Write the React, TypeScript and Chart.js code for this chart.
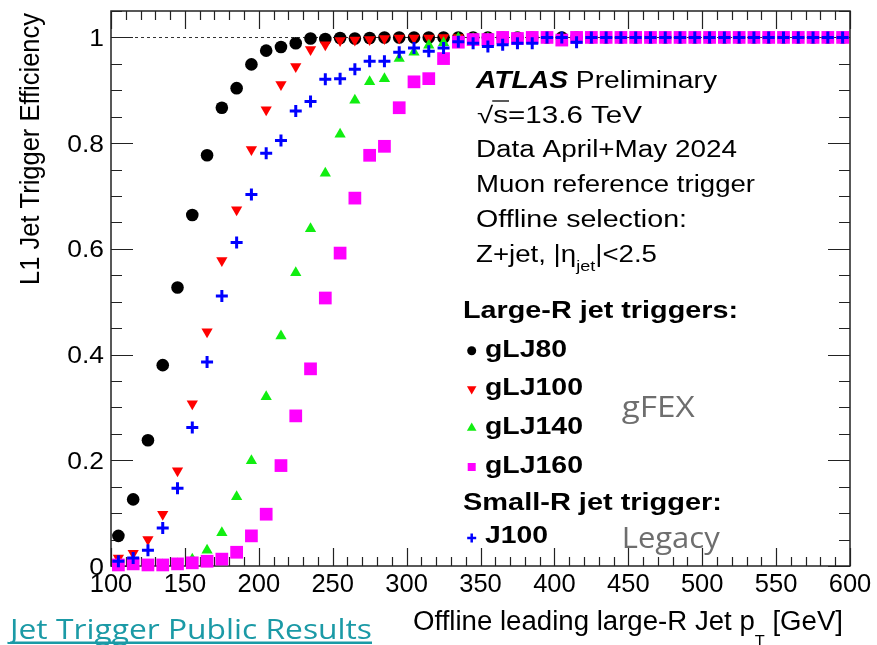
import React, { useEffect, useRef } from 'react';
import { Chart, registerables } from 'chart.js';

Chart.register(...registerables);

// Bin centres of the offline leading large-R jet pT [GeV]
const ptBins = [
  105, 115, 125, 135, 145, 155, 165, 175, 185, 195,
  205, 215, 225, 235, 245, 255, 265, 275, 285, 295,
  305, 315, 325, 335, 345, 355, 365, 375, 385, 395,
  405, 415, 425, 435, 445, 455, 465, 475, 485, 495,
  505, 515, 525, 535, 545, 555, 565, 575, 585, 595,
];

const gLJ80 = [
  0.057, 0.126, 0.238, 0.380, 0.527, 0.664, 0.777, 0.867, 0.904, 0.949,
  0.975, 0.982, 0.989, 0.998, 0.997, 0.999, 0.998, 0.999, 1.0, 1.0,
  1.0, 1.0, 1.0, 1.0, 1.0, 1.0, 1.0, 1.0, 1.0, 1.0,
  1.0, 1.0, 1.0, 1.0, 1.0, 1.0, 1.0, 1.0, 1.0, 1.0,
  1.0, 1.0, 1.0, 1.0, 1.0, 1.0, 1.0, 1.0, 1.0, 1.0,
];

const gLJ100 = [
  0.015, 0.024, 0.050, 0.098, 0.180, 0.307, 0.443, 0.578, 0.674, 0.788,
  0.863, 0.911, 0.945, 0.977, 0.986, 0.994, 0.995, 0.996, 0.998, 0.999,
  0.999, 0.999, 1.0, 1.0, 1.0, 1.0, 1.0, 1.0, 1.0, 1.0,
  1.0, 1.0, 1.0, 1.0, 1.0, 1.0, 1.0, 1.0, 1.0, 1.0,
  1.0, 1.0, 1.0, 1.0, 1.0, 1.0, 1.0, 1.0, 1.0, 1.0,
];

const gLJ140 = [
  0.001, 0.001, 0.001, 0.002, 0.004, 0.013, 0.030, 0.063, 0.131, 0.199,
  0.320, 0.435, 0.555, 0.638, 0.743, 0.817, 0.881, 0.916, 0.922, 0.960,
  0.972, 0.985, 0.990, 0.999, 0.998, 0.999, 1.0, 1.0, 1.0, 1.0,
  1.0, 1.0, 1.0, 1.0, 1.0, 1.0, 1.0, 1.0, 1.0, 1.0,
  1.0, 1.0, 1.0, 1.0, 1.0, 1.0, 1.0, 1.0, 1.0, 1.0,
];

const gLJ160 = [
  0.002, 0.004, 0.002, 0.002, 0.004, 0.006, 0.009, 0.013, 0.026, 0.057,
  0.098, 0.190, 0.284, 0.373, 0.507, 0.592, 0.696, 0.777, 0.794, 0.867,
  0.916, 0.922, 0.960, 0.991, 0.996, 0.996, 1.0, 0.998, 1.0, 1.0,
  0.995, 1.0, 1.0, 1.0, 1.0, 1.0, 1.0, 1.0, 1.0, 1.0,
  1.0, 1.0, 1.0, 1.0, 1.0, 1.0, 1.0, 1.0, 1.0, 1.0,
];

const J100 = [
  0.009, 0.015, 0.030, 0.072, 0.147, 0.262, 0.386, 0.511, 0.612, 0.703,
  0.781, 0.805, 0.861, 0.879, 0.921, 0.922, 0.940, 0.955, 0.955, 0.972,
  0.980, 0.974, 0.980, 0.992, 0.989, 0.983, 0.986, 0.989, 0.989, 1.0,
  1.0, 0.991, 1.0, 1.0, 1.0, 1.0, 1.0, 1.0, 1.0, 1.0,
  1.0, 1.0, 1.0, 1.0, 1.0, 1.0, 1.0, 1.0, 1.0, 1.0,
];

const xTickValues = [100, 150, 200, 250, 300, 350, 400, 450, 500, 550, 600];
const xTickLabels = ['100', '150', '200', '250', '300', '350', '400', '450', '500', '550', '600'];
const yTickValues = [0, 0.2, 0.4, 0.6, 0.8, 1];
const yTickLabels = ['0', '0.2', '0.4', '0.6', '0.8', '1'];
const xMinorStep = 10;
const yMinorStep = 0.05;

const SANS = '"Liberation Sans", Arial, Helvetica, sans-serif';
const WEB = '"Open Sans", "Noto Sans", sans-serif';

type Seg = { t: string; size: number; weight?: string; style?: string; dy?: number; family?: string };

function fontOf(s: Seg) {
  return `${s.style || 'normal'} ${s.weight || 'normal'} ${s.size}px ${s.family || SANS}`;
}

function drawSegs(ctx: CanvasRenderingContext2D, segs: Seg[], x: number, y: number, targetW: number | null, color: string, align: 'left' | 'right' = 'left') {
  let nat = 0;
  const widths: number[] = [];
  for (const s of segs) {
    ctx.font = fontOf(s);
    const w = ctx.measureText(s.t).width;
    widths.push(w);
    nat += w;
  }
  const sx = targetW ? targetW / nat : 1;
  const startX = align === 'right' ? x - nat * sx : x;
  ctx.save();
  ctx.fillStyle = color;
  ctx.textBaseline = 'alphabetic';
  ctx.textAlign = 'left';
  ctx.translate(startX, y);
  ctx.scale(sx, 1);
  let cx = 0;
  const pos: number[] = [];
  segs.forEach((s, i) => {
    ctx.font = fontOf(s);
    ctx.fillText(s.t, cx, s.dy || 0);
    pos.push(startX + cx * sx);
    cx += widths[i];
  });
  ctx.restore();
  pos.push(startX + nat * sx);
  return { sx, pos };
}

function drawMarker(ctx: CanvasRenderingContext2D, kind: string, x: number, y: number, r: number, color: string) {
  ctx.save();
  ctx.fillStyle = color;
  ctx.strokeStyle = color;
  ctx.beginPath();
  if (kind === 'circle') {
    ctx.arc(x, y, r, 0, Math.PI * 2);
    ctx.fill();
  } else if (kind === 'down') {
    ctx.moveTo(x - r * 0.87, y - r * 0.5);
    ctx.lineTo(x + r * 0.87, y - r * 0.5);
    ctx.lineTo(x, y + r);
    ctx.closePath();
    ctx.fill();
  } else if (kind === 'up') {
    ctx.moveTo(x - r * 0.87, y + r * 0.5);
    ctx.lineTo(x + r * 0.87, y + r * 0.5);
    ctx.lineTo(x, y - r);
    ctx.closePath();
    ctx.fill();
  } else if (kind === 'square') {
    ctx.fillRect(x - r, y - r, 2 * r, 2 * r);
  } else if (kind === 'cross') {
    ctx.lineWidth = 2.5;
    ctx.moveTo(x - r, y);
    ctx.lineTo(x + r, y);
    ctx.moveTo(x, y - r);
    ctx.lineTo(x, y + r);
    ctx.stroke();
  }
  ctx.restore();
}

const framePlugin = {
  id: 'atlasFrame',
  beforeDatasetsDraw(chart: any) {
    const ctx: CanvasRenderingContext2D = chart.ctx;
    const { left, right, top, bottom } = chart.chartArea;
    const xs = chart.scales.x;
    const ys = chart.scales.y;
    ctx.save();
    // dashed line at efficiency 1
    ctx.strokeStyle = '#333';
    ctx.lineWidth = 1;
    ctx.setLineDash([3, 3]);
    ctx.beginPath();
    const y1 = Math.round(ys.getPixelForValue(1)) + 0.5;
    ctx.moveTo(left, y1);
    ctx.lineTo(right, y1);
    ctx.stroke();
    ctx.setLineDash([]);

    // frame
    ctx.strokeStyle = '#222';
    ctx.lineWidth = 1.5;
    ctx.strokeRect(left, top, right - left, bottom - top);

    // x ticks
    ctx.lineWidth = 1.2;
    ctx.beginPath();
    for (let v = xs.min; v <= xs.max + 1e-9; v += xMinorStep) {
      const px = Math.round(xs.getPixelForValue(v)) + 0.5;
      const major = xTickValues.some((m) => Math.abs(m - v) < 1e-6);
      const len = major ? 18 : 9;
      ctx.moveTo(px, bottom);
      ctx.lineTo(px, bottom - len);
      ctx.moveTo(px, top);
      ctx.lineTo(px, top + len);
    }
    // y ticks
    for (let v = ys.min; v <= ys.max + 1e-9; v += yMinorStep) {
      const py = Math.round(ys.getPixelForValue(v)) + 0.5;
      const major = yTickValues.some((m) => Math.abs(m - v) < 1e-6);
      const len = major ? 22 : 11;
      ctx.moveTo(left, py);
      ctx.lineTo(left + len, py);
      ctx.moveTo(right, py);
      ctx.lineTo(right - len, py);
    }
    ctx.stroke();

    // tick labels
    xTickValues.forEach((v, i) => {
      const px = xs.getPixelForValue(v);
      const seg = [{ t: xTickLabels[i], size: 25.5 }];
      ctx.font = fontOf(seg[0]);
      const w = ctx.measureText(xTickLabels[i]).width;
      drawSegs(ctx, seg, px - w / 2, bottom + 25.5, null, '#000');
    });
    yTickValues.forEach((v, i) => {
      const py = ys.getPixelForValue(v);
      const s = { t: yTickLabels[i], size: 24 };
      ctx.font = fontOf(s);
      const w = ctx.measureText(s.t).width;
      drawSegs(ctx, [s], left - 7, py + 8.6, w * 1.1, '#000', 'right');
    });
    ctx.restore();
  },
  afterDatasetsDraw(chart: any) {
    const ctx: CanvasRenderingContext2D = chart.ctx;
    ctx.save();

    // y axis title (rotated, aligned to top)
    ctx.save();
    ctx.translate(39, 13);
    ctx.rotate(-Math.PI / 2);
    drawSegs(ctx, [{ t: 'L1 Jet Trigger Efficiency', size: 27 }], 0, 0, 272, '#000', 'right');
    ctx.restore();

    // x axis title
    drawSegs(
      ctx,
      [
        { t: 'Offline leading large-R Jet p', size: 27 },
        { t: 'T', size: 16, dy: 17 },
        { t: ' [GeV]', size: 27 },
      ],
      843, 630, 430, '#000', 'right'
    );

    // ATLAS label block
    drawSegs(ctx, [
      { t: 'ATLAS', size: 23, weight: 'bold', style: 'italic' },
      { t: ' Preliminary', size: 23 },
    ], 476, 88, 241, '#000');
    const r2 = drawSegs(ctx, [
      { t: '\u221A', size: 23 },
      { t: 's', size: 23 },
      { t: '=13.6 TeV', size: 23 },
    ], 477, 122.5, 165, '#000');
    ctx.save();
    ctx.strokeStyle = '#000';
    ctx.lineWidth = 1.3;
    ctx.beginPath();
    ctx.moveTo(r2.pos[1] - 1, 101);
    ctx.lineTo(r2.pos[2] + 1, 101);
    ctx.stroke();
    ctx.restore();
    drawSegs(ctx, [{ t: 'Data April+May 2024', size: 23 }], 476, 157.3, 261, '#000');
    drawSegs(ctx, [{ t: 'Muon reference trigger', size: 23 }], 476, 192, 279, '#000');
    drawSegs(ctx, [{ t: 'Offline selection:', size: 23 }], 476, 227, 211, '#000');
    drawSegs(ctx, [
      { t: 'Z+jet, |\u03B7', size: 23 },
      { t: 'jet', size: 15, dy: 9 },
      { t: '|<2.5', size: 23 },
    ], 476, 261.8, 181, '#000');

    // legend
    drawSegs(ctx, [{ t: 'Large-R jet triggers:', size: 24.5, weight: 'bold' }], 463, 318, 275, '#000');
    const entries = [
      { name: 'gLJ80', kind: 'circle', color: '#000000', y: 356.7, w: 82, r: 4.5 },
      { name: 'gLJ100', kind: 'down', color: '#ff0000', y: 395, w: 98, r: 5.5 },
      { name: 'gLJ140', kind: 'up', color: '#11ee11', y: 434, w: 98, r: 5.5 },
      { name: 'gLJ160', kind: 'square', color: '#ff00ff', y: 473, w: 98, r: 4 },
    ];
    entries.forEach((e) => {
      drawMarker(ctx, e.kind, 471.7, e.y - 6, e.r, e.color);
      drawSegs(ctx, [{ t: e.name, size: 24.5, weight: 'bold' }], 485, e.y, e.w, '#000');
    });
    drawSegs(ctx, [{ t: 'Small-R jet trigger:', size: 24.5, weight: 'bold' }], 463, 510, 259, '#000');
    drawMarker(ctx, 'cross', 471.7, 538, 4.5, '#0000ff');
    drawSegs(ctx, [{ t: 'J100', size: 24.5, weight: 'bold' }], 485, 543.3, 63, '#000');

    // gFEX / Legacy annotations
    drawSegs(ctx, [{ t: 'gFEX', size: 29, family: WEB }], 621.7, 416.7, 73, '#6e6e6e');
    drawSegs(ctx, [{ t: 'Legacy', size: 29, family: WEB }], 621.7, 547.5, 98, '#6e6e6e');

    // link-like footer
    drawSegs(ctx, [{ t: 'Jet Trigger Public Results', size: 28, family: WEB }], 10, 638.5, 362, '#1b9aa6');
    ctx.fillStyle = '#1b9aa6';
    ctx.fillRect(10, 641.5, 362, 2.5);

    ctx.restore();
  },
};

function toXY(vals: number[]) {
  return ptBins.map((x, i) => ({ x, y: vals[i] }));
}

export default function App() {
  const ref = useRef<HTMLCanvasElement | null>(null);

  useEffect(() => {
    if (!ref.current) return;
    const chart = new Chart(ref.current, {
      type: 'scatter',
      data: {
        datasets: [
          {
            label: 'J100',
            data: toXY(J100),
            pointStyle: 'cross',
            pointRadius: 6,
            pointBorderColor: '#0000ff',
            pointBackgroundColor: '#0000ff',
            pointBorderWidth: 3,
            showLine: false,
            clip: false,
          },
          {
            label: 'gLJ160',
            data: toXY(gLJ160),
            pointStyle: 'rect',
            pointRadius: 9,
            pointBackgroundColor: '#ff00ff',
            pointBorderWidth: 0,
            showLine: false,
            clip: false,
          },
          {
            label: 'gLJ140',
            data: toXY(gLJ140),
            pointStyle: 'triangle',
            pointRadius: 6.5,
            pointBackgroundColor: '#11ee11',
            pointBorderWidth: 0,
            showLine: false,
            clip: false,
          },
          {
            label: 'gLJ100',
            data: toXY(gLJ100),
            pointStyle: 'triangle',
            pointRotation: 180,
            pointRadius: 6.5,
            pointBackgroundColor: '#ff0000',
            pointBorderWidth: 0,
            showLine: false,
            clip: false,
          },
          {
            label: 'gLJ80',
            data: toXY(gLJ80),
            pointStyle: 'circle',
            pointRadius: 6.3,
            pointBackgroundColor: '#000000',
            pointBorderWidth: 0,
            showLine: false,
            clip: false,
          },
        ],
      } as any,
      options: {
        animation: false,
        responsive: false,
        maintainAspectRatio: false,
        events: [],
        layout: { padding: { left: 111, top: 11, right: 27, bottom: 79 } },
        scales: {
          x: { type: 'linear', min: 100, max: 600, display: false },
          y: { type: 'linear', min: 0, max: 1.05, display: false },
        },
        plugins: {
          legend: { display: false },
          tooltip: { enabled: false },
        },
      } as any,
      plugins: [framePlugin],
    });
    return () => chart.destroy();
  }, []);

  return (
    <div style={{ position: 'fixed', left: 0, top: 0, width: 877, height: 645, background: '#fff' }}>
      <canvas ref={ref} width={877} height={645} style={{ display: 'block', width: 877, height: 645 }} />
    </div>
  );
}
